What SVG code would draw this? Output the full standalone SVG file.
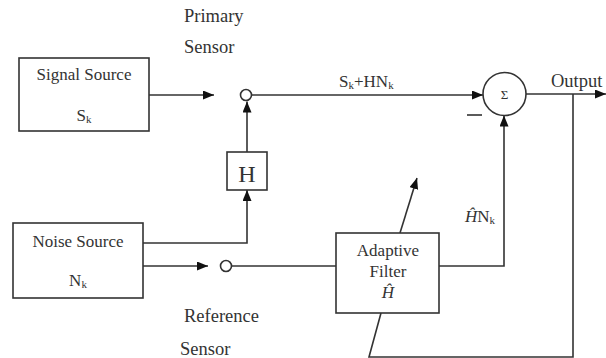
<svg xmlns="http://www.w3.org/2000/svg" width="606" height="358" viewBox="0 0 606 358">
<style>
.box{fill:#fff;stroke:#333;stroke-width:1.6}
.ln{fill:none;stroke:#333;stroke-width:1.6}
.t{font-family:"Liberation Serif","Times New Roman",serif;fill:#333}
.bt{font-size:17px}
.lb{font-size:18.5px}
</style>
<defs>
<marker id="ah" markerUnits="userSpaceOnUse" markerWidth="12" markerHeight="10" refX="11" refY="4.5" orient="auto">
<path d="M0,0 L11,4.5 L0,9 z" fill="#111"/>
</marker>
</defs>
<g id="connectors">
<path class="ln" d="M149,95 L214,95" marker-end="url(#ah)"/>
<path class="ln" d="M251.5,95 L483,95" marker-end="url(#ah)"/>
<path class="ln" d="M247,152 L247,101.5" marker-end="url(#ah)"/>
<path class="ln" d="M143,243 L247,243 L247,190" marker-end="url(#ah)"/>
<path class="ln" d="M143,266 L208,266" marker-end="url(#ah)"/>
<path class="ln" d="M231.5,266 L336,266"/>
<path class="ln" d="M439,266 L504,266 L504,115.5" marker-end="url(#ah)"/>
<path class="ln" d="M526,94 L606,94" marker-end="url(#ah)"/>
<path class="ln" d="M573,94 L573,357 L369,357 L381,313"/>
<path class="ln" d="M400,233 L417,178" marker-end="url(#ah)"/>
</g>
<g id="signal-source">
<rect class="box" x="19" y="58" width="130" height="73"/>
<text class="t bt" x="84" y="80" text-anchor="middle">Signal Source</text>
<text class="t bt" x="84" y="121" text-anchor="middle">S<tspan font-size="11" dy="2">k</tspan></text>
</g>
<g id="primary-sensor">
<circle class="box" cx="246" cy="95" r="5.5"/>
<text class="t lb" x="184" y="22">Primary</text>
<text class="t lb" x="184" y="53">Sensor</text>
</g>
<g id="h-block">
<rect class="box" x="227" y="152" width="40" height="38"/>
<text class="t" x="247" y="182" font-size="24" text-anchor="middle">H</text>
</g>
<g id="noise-source">
<rect class="box" x="13" y="223" width="130" height="75"/>
<text class="t bt" x="78" y="247" text-anchor="middle">Noise Source</text>
<text class="t bt" x="78" y="286" text-anchor="middle">N<tspan font-size="11" dy="2">k</tspan></text>
</g>
<g id="reference-sensor">
<circle class="box" cx="226" cy="266" r="5.5"/>
<text class="t lb" x="184" y="322">Reference</text>
<text class="t lb" x="180" y="355">Sensor</text>
</g>
<g id="adaptive-filter">
<rect class="box" x="336" y="233" width="103" height="80"/>
<text class="t bt" x="388" y="256" text-anchor="middle">Adaptive</text>
<text class="t bt" x="388" y="277" text-anchor="middle">Filter</text>
<text class="t bt" x="388" y="298" text-anchor="middle" font-style="italic">Ĥ</text>
</g>
<g id="summer">
<circle class="box" cx="504.5" cy="94" r="21.5"/>
<text class="t" x="504.5" y="99" font-size="13" text-anchor="middle" font-family="'DejaVu Sans',sans-serif">Σ</text>
<path class="ln" d="M467,115 L482,115"/>
</g>
<g id="labels">
<text class="t bt" x="339" y="87">S<tspan font-size="11" dy="2">k</tspan><tspan dy="-2">+HN</tspan><tspan font-size="11" dy="2">k</tspan></text>
<text class="t bt" x="465" y="222"><tspan font-style="italic">Ĥ</tspan>N<tspan font-size="11" dy="2">k</tspan></text>
<text class="t lb" x="551" y="87">Output</text>
</g>
</svg>
